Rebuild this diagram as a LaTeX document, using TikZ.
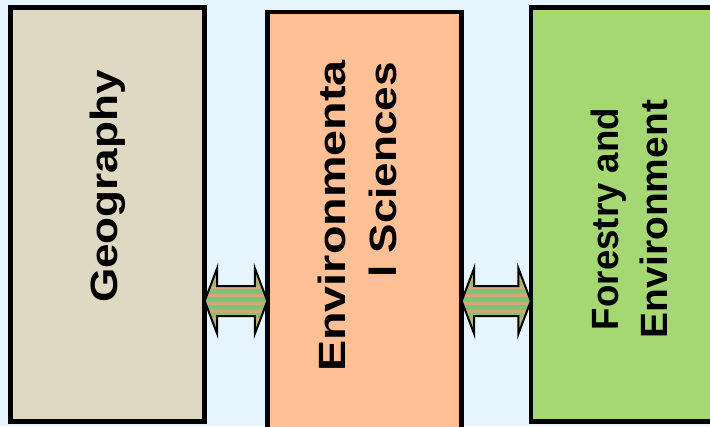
\documentclass[tikz,border=0pt]{standalone}
\usepackage{fontspec}
\setmainfont{Liberation Sans}
\usetikzlibrary{calc}
\definecolor{bgc}{RGB}{230,244,254}
\definecolor{geoc}{RGB}{223,217,195}
\definecolor{envc}{RGB}{255,192,150}
\definecolor{forc}{RGB}{165,216,114}
\definecolor{grc}{RGB}{119,199,119}
\definecolor{tnc}{RGB}{214,166,118}
\newcommand\dblpath[2]{(#1) -- ($(#1)+(12.5,-33)$) -- ($(#1)+(12.5,-15)$) -- ($(#2)+(-12.5,-15)$) -- ($(#2)+(-12.5,-33)$) -- (#2) -- ($(#2)+(-12.5,33)$) -- ($(#2)+(-12.5,15)$) -- ($(#1)+(12.5,15)$) -- ($(#1)+(12.5,33)$) -- cycle}
\newcommand\stripedarrow[2]{%
  \fill[tnc] \dblpath{#1}{#2};
  \begin{scope}
    \clip \dblpath{#1}{#2};
    \foreach \k in {0,...,9} \fill[grc] ($(#1)+(0,-36+8*\k)$) rectangle ++(70,4.5);
  \end{scope}
  \draw[line width=2pt, line join=miter] \dblpath{#1}{#2};
}
\tikzset{
  box/.style={draw=black, line width=4.5pt, inner sep=0pt, outer sep=0pt},
  lbl/.style={inner sep=0pt, rotate=90, font=\fontsize{38}{46}\selectfont\bfseries}
}
\begin{document}
\begin{tikzpicture}[x=1pt, y=-1pt]
\useasboundingbox (0,0) rectangle (710,426);
\fill[bgc] (0,0) rectangle (710,426);
\node[box, fill=geoc, minimum width=194.4pt, minimum height=414.4pt] (geo) at (107.5,214.5) {};
\node[box, fill=envc, minimum width=194.4pt, minimum height=427.7pt] (env) at (364.5,226) {};
\node[box, fill=forc, minimum width=209.2pt, minimum height=414.4pt] (for) at (635.4,214.5) {};
\coordinate (mid) at (0,301);
\coordinate (a1) at (geo.east |- mid);
\coordinate (b1) at (env.west |- mid);
\coordinate (a2) at (env.east |- mid);
\coordinate (b2) at (for.west |- mid);
\stripedarrow{a1}{b1}
\stripedarrow{a2}{b2}
\node[lbl, anchor=base] (tgeo) at (117,186.5) {\scalebox{1.16}[1]{Geography}};
\node[lbl, anchor=base east] (tenv1) at (345,60) {\scalebox{1.23}[1]{Environmenta}};
\node[lbl, anchor=base east] (tenv2) at (396,62) {\scalebox{1.16}[1]{l Sciences}};
\node[lbl, anchor=base] (tfor1) at (618,219) {\scalebox{0.965}[1]{Forestry and}};
\node[lbl, anchor=base] (tfor2) at (667,219) {\scalebox{1.025}[1]{Environment}};
\end{tikzpicture}
\end{document}
